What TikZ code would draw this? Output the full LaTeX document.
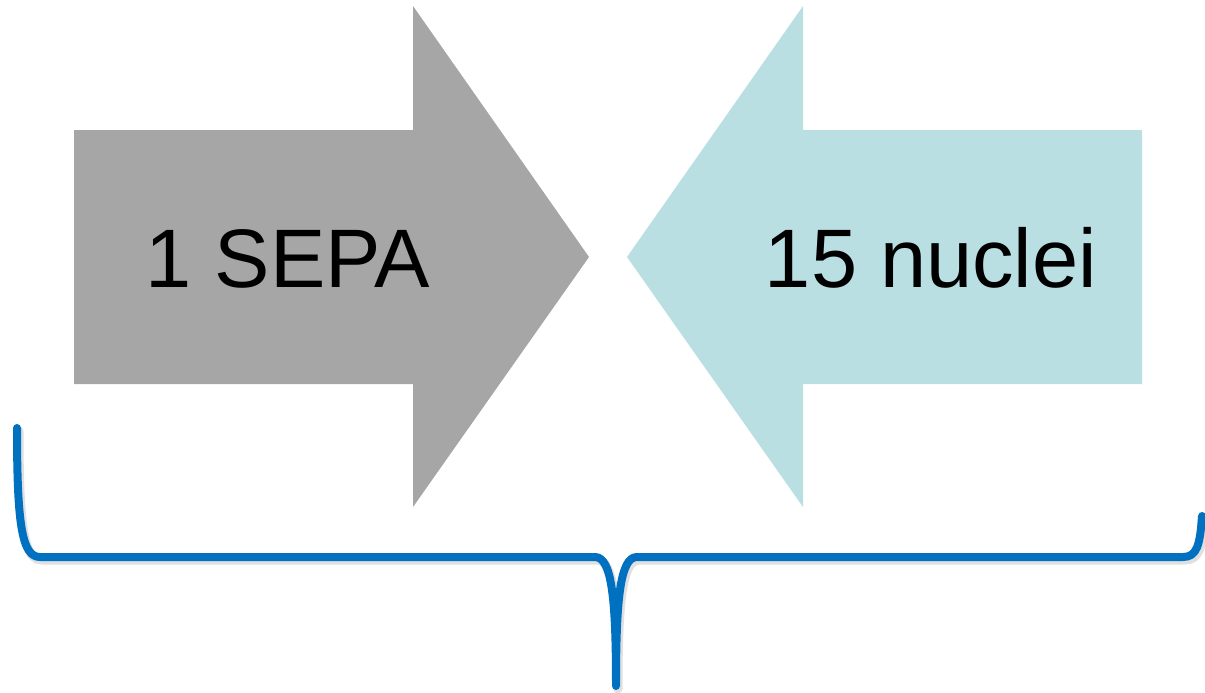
\documentclass[tikz,border=0pt]{standalone}
\usepackage{fontspec}
\setmainfont{Liberation Sans}
\definecolor{arrgray}{HTML}{A6A6A6}
\definecolor{arrblue}{HTML}{B9DFE3}
\definecolor{bracecol}{HTML}{0070C0}
\begin{document}
\begin{tikzpicture}[x=1pt,y=-1pt,
  lbl/.style={anchor=base,inner sep=0pt,font=\fontsize{83}{96}\selectfont},
  bracestyle/.style={draw=bracecol,line width=8pt,line cap=round,line join=round},
  shadowstyle/.style={draw=black!12,line width=9pt,line cap=round,line join=round}]
\useasboundingbox (0,0) rectangle (1205,693);
% left arrow
\fill[arrgray] (74,130) -- (413,130) -- (413,6) -- (589,257) -- (413,507) -- (413,384) -- (74,384) -- cycle;
% right arrow
\fill[arrblue] (1142,130) -- (803,130) -- (803,6) -- (627,257) -- (803,507) -- (803,384) -- (1142,384) -- cycle;
\node[lbl] (sepa) at (288,287) {1 SEPA};
\node[lbl] (nuclei) at (931,287) {15 nuclei};
% brace shadow
\begin{scope}[shift={(2,3)}]
\draw[shadowstyle] (17,428) .. controls (17,525) and (22,557) .. (40,557) -- (595,557) .. controls (612,557) and (616,600) .. (616,686) .. controls (616,600) and (620,557) .. (637,557) -- (1183,557) .. controls (1197,557) and (1200,545) .. (1202,516);
\end{scope}
% brace
\draw[bracestyle] (17,428) .. controls (17,525) and (22,557) .. (40,557) -- (595,557) .. controls (612,557) and (616,600) .. (616,686) .. controls (616,600) and (620,557) .. (637,557) -- (1183,557) .. controls (1197,557) and (1200,545) .. (1202,516);
\end{tikzpicture}
\end{document}
